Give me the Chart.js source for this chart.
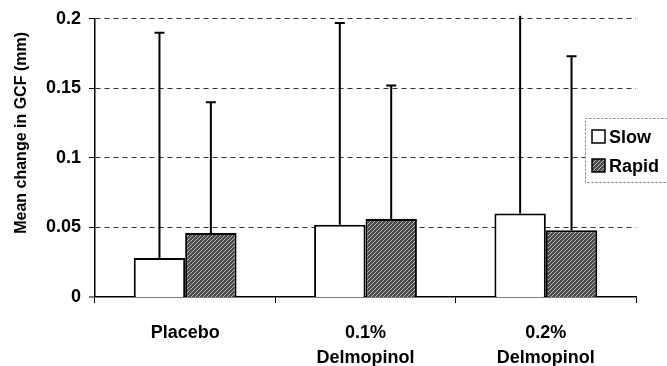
<!DOCTYPE html>
<html>
<head>
<meta charset="utf-8">
<script src="https://cdn.jsdelivr.net/npm/chart.js@4/dist/chart.umd.min.js"></script>
<style>
  html, body { margin: 0; padding: 0; background: #fff; }
  #wrap { width: 667px; height: 366px; position: relative; }
</style>
</head>
<body>
<div id="wrap"><canvas id="chart"></canvas></div>
<script>
const categories = ["Placebo", ["0.1%", "Delmopinol"], ["0.2%", "Delmopinol"]];
const seriesNames = ["Slow", "Rapid"];
const slowValues = [0.028, 0.052, 0.060];
const rapidValues = [0.046, 0.056, 0.048];
// upper end of each error bar
const slowErrTop = [0.190, 0.197, 0.215];
const rapidErrTop = [0.140, 0.152, 0.173];
const yTickLabels = ["0", "0.05", "0.1", "0.15", "0.2"];
const yTitle = "Mean change in GCF (mm)";

const FONT = "'Liberation Sans', Arial, sans-serif";

// hatched fill for the "Rapid" bars
function makeHatch() {
  const c = document.createElement("canvas");
  c.width = 4; c.height = 4;
  const g = c.getContext("2d");
  g.fillStyle = "#4a4a4a";
  g.fillRect(0, 0, 4, 4);
  g.strokeStyle = "#b8b8b8";
  g.lineWidth = 1;
  g.beginPath();
  g.moveTo(0, 4); g.lineTo(4, 0);
  g.moveTo(-1, 1); g.lineTo(1, -1);
  g.moveTo(3, 5); g.lineTo(5, 3);
  g.stroke();
  return g.createPattern(c, "repeat");
}
const hatch = makeHatch();

const errorBars = {
  id: "errorBars",
  afterDatasetsDraw(chart) {
    const ctx = chart.ctx;
    const y = chart.scales.y;
    const tops = [slowErrTop, rapidErrTop];
    ctx.save();
    ctx.strokeStyle = "#000";
    ctx.lineWidth = 2;
    tops.forEach(function (errs, i) {
      chart.getDatasetMeta(i).data.forEach(function (bar, j) {
        let yTop = y.getPixelForValue(errs[j]);
        let cap = true;
        if (yTop < chart.chartArea.top - 3) { yTop = chart.chartArea.top - 3; cap = false; }
        ctx.beginPath();
        ctx.moveTo(bar.x, bar.y);
        ctx.lineTo(bar.x, yTop);
        if (cap) { ctx.moveTo(bar.x - 5, yTop); ctx.lineTo(bar.x + 5, yTop); }
        ctx.stroke();
      });
    });
    ctx.restore();
  }
};

const extras = {
  id: "extras",
  afterDraw(chart) {
    const ctx = chart.ctx;
    const area = chart.chartArea;
    ctx.save();
    // y axis title
    ctx.translate(22, (area.top + area.bottom) / 2 - 25);
    ctx.rotate(-Math.PI / 2);
    ctx.font = "bold 16px " + FONT;
    ctx.fillStyle = "#000";
    ctx.textAlign = "center";
    ctx.textBaseline = "middle";
    ctx.fillText(yTitle, 0, 0);
    ctx.restore();

    // legend box
    ctx.save();
    ctx.fillStyle = "#fff";
    ctx.fillRect(585, 118, 90, 64);
    ctx.setLineDash([2, 2]);
    ctx.strokeStyle = "#777";
    ctx.lineWidth = 1;
    ctx.strokeRect(585.5, 118.5, 90, 64);
    ctx.setLineDash([]);
    const fills = ["#fff", hatch];
    const rows = [137, 166];
    ctx.font = "bold 18px " + FONT;
    ctx.textBaseline = "middle";
    seriesNames.forEach(function (name, i) {
      ctx.fillStyle = fills[i];
      ctx.fillRect(592, rows[i] - 7, 13, 13);
      ctx.strokeStyle = "#000";
      ctx.lineWidth = 1.5;
      ctx.strokeRect(592, rows[i] - 7, 13, 13);
      ctx.fillStyle = "#000";
      ctx.fillText(name, 609, rows[i] + 1);
    });
    ctx.restore();
  }
};

new Chart(document.getElementById("chart"), {
  type: "bar",
  data: {
    labels: categories,
    datasets: [
      {
        label: seriesNames[0],
        data: slowValues,
        backgroundColor: "#fff",
        borderColor: "#000",
        borderWidth: 2,
        categoryPercentage: 0.57,
        barPercentage: 1
      },
      {
        label: seriesNames[1],
        data: rapidValues,
        backgroundColor: hatch,
        borderColor: "#000",
        borderWidth: 2,
        categoryPercentage: 0.57,
        barPercentage: 1
      }
    ]
  },
  options: {
    responsive: true,
    maintainAspectRatio: false,
    animation: false,
    layout: { padding: { top: 16, right: 31, left: 0, bottom: 0 } },
    plugins: {
      legend: { display: false },
      tooltip: { enabled: false }
    },
    scales: {
      x: {
        afterFit: function (scale) { scale.height = 69; },
        grid: {
          offset: true,
          drawOnChartArea: false,
          drawTicks: true,
          tickLength: 6,
          tickColor: "#000"
        },
        border: { display: true, color: "#000", width: 1.5 },
        ticks: {
          color: "#000",
          padding: 17,
          maxRotation: 0,
          font: { family: FONT, size: 18, weight: "bold", lineHeight: 1.4 }
        }
      },
      y: {
        min: 0,
        max: 0.2,
        afterFit: function (scale) { scale.width = 95; },
        grid: {
          color: function (c) { return c.tick && c.tick.value === 0 ? "#000" : "#333"; },
          lineWidth: function (c) { return c.tick && c.tick.value === 0 ? 0 : 1; },
          drawTicks: true,
          tickLength: 6,
          tickColor: "#000",
          tickWidth: 1,
          tickBorderDash: []
        },
        border: { display: true, color: "#000", width: 1.5, dash: [5, 4] },
        ticks: {
          stepSize: 0.05,
          color: "#000",
          padding: 8,
          font: { family: FONT, size: 18, weight: "bold" },
          callback: function (v, i) { return yTickLabels[i]; }
        }
      }
    }
  },
  plugins: [errorBars, extras]
});
</script>
</body>
</html>
